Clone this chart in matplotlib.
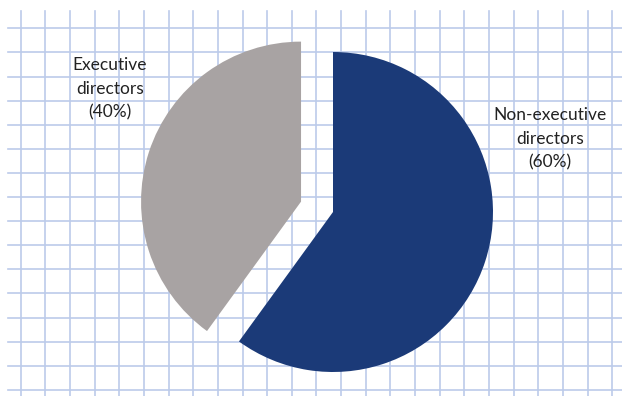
import matplotlib.pyplot as plt

# data
labels = ["Non-executive\ndirectors\n(60%)", "Executive\ndirectors\n(40%)"]
shares = [60, 40]
colors = ["#1b3a78", "#a8a3a3"]
explode_frac = [0, 0.21]

W, H = 622, 396
R = 160
fig = plt.figure(figsize=(W / 100, H / 100), dpi=100)
ax = fig.add_axes([0, 0, 1, 1])

# graph-paper background
grid_col = "#bccbea"
for k in range(25):
    x = 20.7 + 24.65 * k
    ax.plot([x, x], [0, H - 11], color=grid_col, lw=1.2, zorder=0)
for k in range(16):
    y = H - (28.3 + 24.1 * k)
    ax.plot([8, W], [y, y], color=grid_col, lw=1.2, zorder=0)

# pie explode is in data units, not radius units
ax.pie(shares, colors=colors, explode=[e * R for e in explode_frac],
       startangle=90, counterclock=False,
       center=(333, H - 212), radius=R, frame=True,
       wedgeprops=dict(linewidth=0))
ax.set_xlim(0, W)
ax.set_ylim(0, H)
ax.set_aspect("equal")
ax.axis("off")

ax.text(550, H - 139, labels[0], ha="center", va="center", fontsize=12.5,
        family="Lato", color="#222222", linespacing=1.6)
ax.text(110, H - 89, labels[1], ha="center", va="center", fontsize=12.5,
        family="Lato", color="#222222", linespacing=1.6)

fig.savefig("out.png", dpi=100)
